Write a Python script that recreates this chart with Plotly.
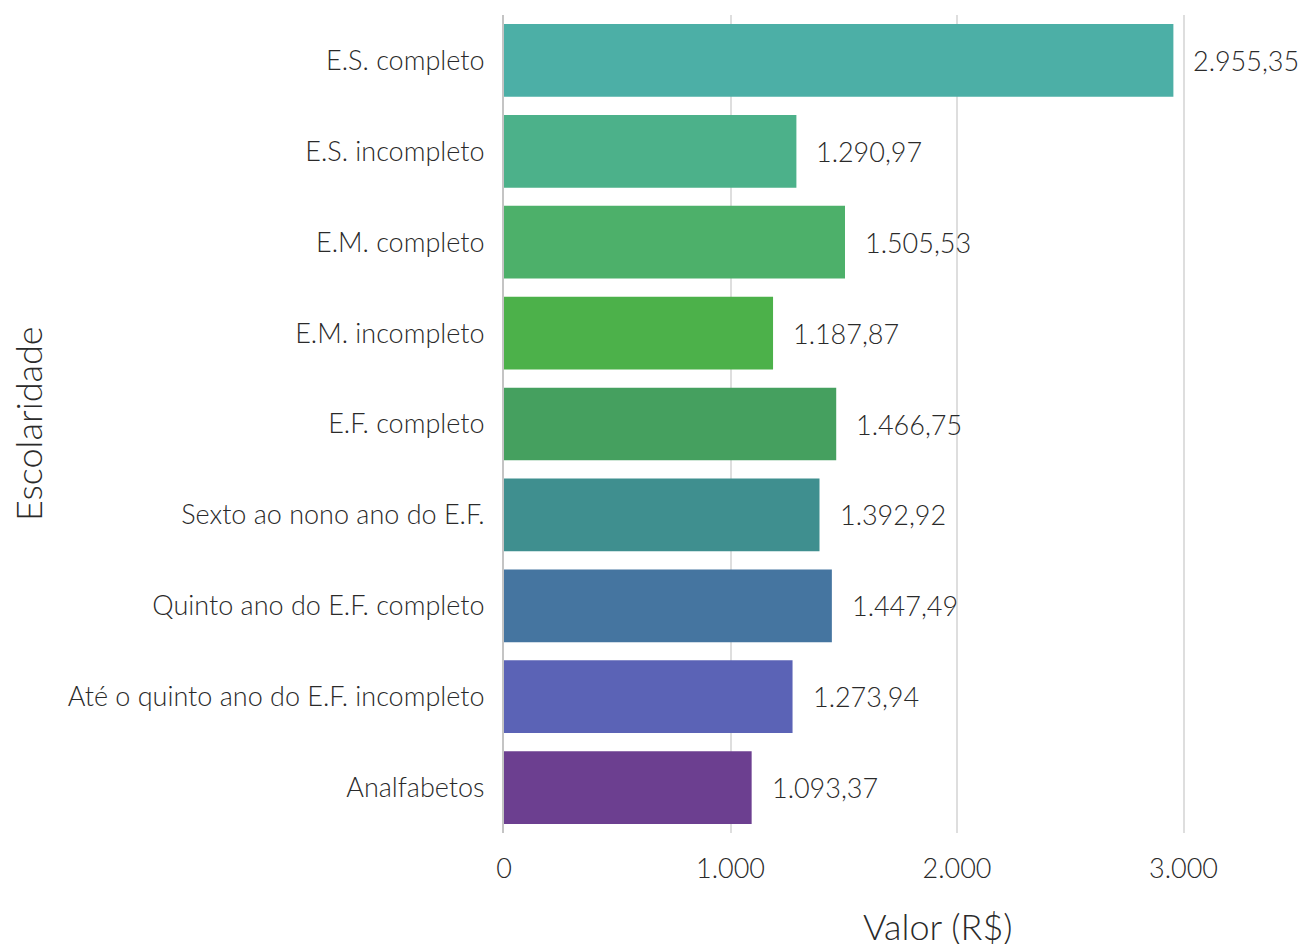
import plotly.graph_objects as go

categories = [
    "Analfabetos",
    "Até o quinto ano do E.F. incompleto",
    "Quinto ano do E.F. completo",
    "Sexto ao nono ano do E.F.",
    "E.F. completo",
    "E.M. incompleto",
    "E.M. completo",
    "E.S. incompleto",
    "E.S. completo",
]
values = [1093.37, 1273.94, 1447.49, 1392.92, 1466.75, 1187.87, 1505.53, 1290.97, 2955.35]
colors = ["#6C3F90", "#5B63B6", "#4575A0", "#3F8F8F", "#45A05F",
          "#4CB14A", "#4DB06A", "#4CB18A", "#4CAFA6"]
x_ticks = [0, 1000, 2000, 3000]
x_title = "Valor (R$)"
y_title = "Escolaridade"

FONT = "Lato Light, Lato"
TXT = "#2a2a2a"

def br(v):
    s = f"{v:,.2f}"
    return s.replace(",", "X").replace(".", ",").replace("X", ".")

fig = go.Figure()
fig.add_trace(go.Bar(
    x=values, y=categories, orientation="h",
    marker=dict(color=colors, line=dict(width=0)),
    showlegend=False, hoverinfo="skip",
))

annotations = []
for c, v in zip(categories, values):
    annotations.append(dict(
        x=v, y=c, xref="x", yref="y", text=br(v), showarrow=False,
        xanchor="left", yanchor="middle", xshift=18,
        font=dict(family=FONT, size=27, color=TXT, weight=300),
    ))

L, R = 504, 1304
annotations.append(dict(
    x=(938 - L) / (R - L), y=0, xref="paper", yref="paper", yshift=-93,
    text=x_title, showarrow=False, xanchor="center", yanchor="middle",
    font=dict(family=FONT, size=36, color=TXT, weight=300),
))
annotations.append(dict(
    x=(28 - L) / (R - L), y=0.5, xref="paper", yref="paper",
    text=y_title, showarrow=False, xanchor="center", yanchor="middle", textangle=-90,
    font=dict(family=FONT, size=36, color=TXT, weight=300),
))

fig.update_layout(
    width=1304, height=944,
    margin=dict(l=L, r=1304 - R, t=15, b=944 - 833),
    plot_bgcolor="white", paper_bgcolor="white",
    bargap=0.2,
    separators=",.",
    font=dict(family=FONT, size=27, color=TXT, weight=300),
    annotations=annotations,
    xaxis=dict(
        range=[0, (R - L) / 226.5 * 1000], tickvals=x_ticks, tickformat=",d",
        showgrid=True, gridcolor="#dedede", gridwidth=2, zeroline=False,
        showline=False, ticks="outside", ticklen=12, tickcolor="rgba(0,0,0,0)",
        tickfont=dict(family=FONT, size=27, color=TXT, weight=300),
        fixedrange=True,
    ),
    yaxis=dict(
        categoryorder="array", categoryarray=categories,
        showgrid=False, zeroline=False,
        showline=True, linecolor="#c4c4c4", linewidth=2,
        ticks="outside", ticklen=12, tickcolor="rgba(0,0,0,0)",
        tickfont=dict(family=FONT, size=27, color=TXT, weight=300),
        fixedrange=True,
    ),
)

fig.write_html("out.html", config={"displayModeBar": False},
               post_script="document.body.style.margin='0';document.body.style.overflow='hidden';")
